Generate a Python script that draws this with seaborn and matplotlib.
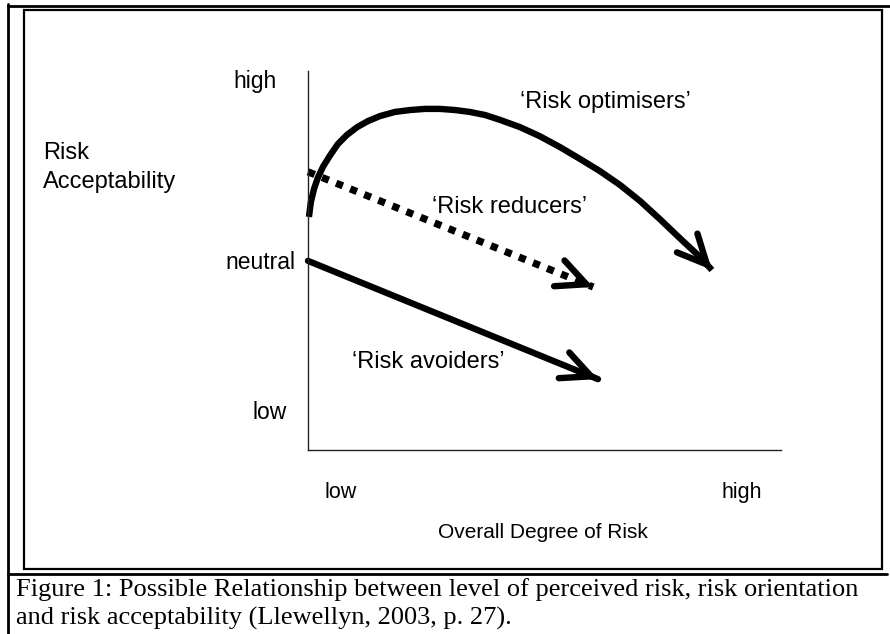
import matplotlib
matplotlib.use("Agg")
import matplotlib.pyplot as plt
from matplotlib.lines import Line2D
from matplotlib.patches import Rectangle
import pandas as pd
import seaborn as sns

# Curves on a 0-100 scale (x: overall degree of risk, y: risk acceptability)
optimiser_x = [0.2, 0.6, 1.3, 2.1, 3.2, 4.7, 6.3, 8.2, 10.4, 12.7, 15.2, 18.4, 21.6, 24.7,
               27.9, 31.1, 34.2, 37.4, 40.6, 44.8, 49.0, 53.3, 57.5, 61.7, 66.0, 70.2,
               74.4, 78.6, 82.9, 85.4]
optimiser_y = [61.5, 65.4, 69.0, 71.9, 74.8, 77.8, 80.7, 83.1, 85.2, 86.8, 88.1, 89.2, 89.7,
               90.0, 90.0, 89.7, 89.2, 88.4, 87.1, 85.2, 82.8, 79.9, 76.8, 73.6, 69.9,
               65.7, 60.9, 55.9, 50.9, 47.5]
reducer_x = [0.0, 60.3]
reducer_y = [73.4, 43.0]
avoider_x = [0.0, 61.3]
avoider_y = [49.9, 18.7]

group_labels = ["\u2018Risk optimisers\u2019", "\u2018Risk reducers\u2019", "\u2018Risk avoiders\u2019"]
group_label_x = [44.8, 26.2, 9.3]
group_label_y = [91.8, 64.1, 23.2]

y_tick_labels = ["high", "neutral", "low"]
y_tick_pos = [97.1, 49.6, 9.8]
y_tick_x = [-11.2, -10.1, -8.2]
x_tick_labels = ["low", "high"]
x_tick_pos = [6.8, 91.8]

caption_lines = [
    "Figure 1: Possible Relationship between level of perceived risk, risk orientation",
    "and risk acceptability (Llewellyn, 2003, p. 27).",
]

sns.set_theme(style="white")
plt.rcParams["font.family"] = ["Liberation Sans", "DejaVu Sans"]
plt.rcParams["text.color"] = "black"

W, H = 890, 634


def fx(px):
    return px / W


def fy(py):
    return 1 - py / H


fig = plt.figure(figsize=(W / 100, H / 100), dpi=100)
fig.patch.set_facecolor("white")
ax = fig.add_axes([fx(308), fy(450), (781 - 308) / W, (450 - 71) / H])
ax.set_facecolor("none")

df_opt = pd.DataFrame({"x": optimiser_x, "y": optimiser_y})
df_red = pd.DataFrame({"x": reducer_x, "y": reducer_y})
df_avo = pd.DataFrame({"x": avoider_x, "y": avoider_y})

sns.lineplot(data=df_opt, x="x", y="y", ax=ax, color="black", lw=4.6,
             sort=False, solid_capstyle="butt", solid_joinstyle="round", clip_on=False)
sns.lineplot(data=df_red, x="x", y="y", ax=ax, color="black", lw=5.2,
             linestyle=(0, (1, 1.1)), dash_capstyle="butt", clip_on=False)
sns.lineplot(data=df_avo, x="x", y="y", ax=ax, color="black", lw=4.6,
             solid_capstyle="round", clip_on=False)


def arrow_head(xs, ys):
    # open head at the last point, pointing along the last segment
    x1, y1 = xs[-1], ys[-1]
    x0, y0 = xs[-2], ys[-2]
    t = 0.04 if len(xs) == 2 else 0.5
    ax.annotate("", xy=(x1, y1), xytext=(x1 - t * (x1 - x0), y1 - t * (y1 - y0)),
                arrowprops=dict(arrowstyle="->,head_length=2.1,head_width=1.0",
                                lw=4.6, color="black", shrinkA=0, shrinkB=0,
                                mutation_scale=10, capstyle="round",
                                joinstyle="miter"),
                annotation_clip=False)


arrow_head(optimiser_x, optimiser_y)
arrow_head(reducer_x, reducer_y)
arrow_head(avoider_x, avoider_y)

for lab, x, y in zip(group_labels, group_label_x, group_label_y):
    ax.text(x, y, lab, ha="left", va="center", fontsize=17, color="black")

for lab, x, y in zip(y_tick_labels, y_tick_x, y_tick_pos):
    ax.text(x, y, lab, ha="center", va="center", fontsize=16.5, color="black", clip_on=False)
for lab, x in zip(x_tick_labels, x_tick_pos):
    ax.text(x, -11.3, lab, ha="center", va="center", fontsize=15.5, color="black", clip_on=False)

ax.set_xlim(0, 100)
ax.set_ylim(0, 100)
ax.set_xticks([])
ax.set_yticks([])
ax.set_xlabel("")
ax.set_ylabel("")
for side in ["top", "right"]:
    ax.spines[side].set_visible(False)
for side in ["left", "bottom"]:
    ax.spines[side].set_color("#222222")
    ax.spines[side].set_linewidth(1.0)

# axis titles
fig.text(fx(43), fy(153), "Risk", ha="left", va="center", fontsize=17)
fig.text(fx(43), fy(182), "Acceptability", ha="left", va="center", fontsize=17)
fig.text(fx(543), fy(532), "Overall Degree of Risk", ha="center", va="center", fontsize=15)

# frames
fig.add_artist(Rectangle((fx(24), fy(569)), (882 - 24) / W, (569 - 10) / H,
                         transform=fig.transFigure, fill=False, ec="black", lw=1.6))
fig.add_artist(Line2D([fx(8), fx(8)], [fy(4), 0], transform=fig.transFigure, color="black", lw=2))
fig.add_artist(Line2D([fx(8), fx(890)], [fy(5.5), fy(5.5)], transform=fig.transFigure, color="black", lw=2))
fig.add_artist(Line2D([fx(8), fx(887)], [fy(574), fy(574)], transform=fig.transFigure, color="black", lw=2))

# caption
fig.text(fx(16), fy(590), caption_lines[0], ha="left", va="center", fontsize=19,
         family=["Liberation Serif", "DejaVu Serif"])
fig.text(fx(16), fy(618), caption_lines[1], ha="left", va="center", fontsize=19,
         family=["Liberation Serif", "DejaVu Serif"])

fig.savefig("out.png", dpi=100, facecolor="white")
